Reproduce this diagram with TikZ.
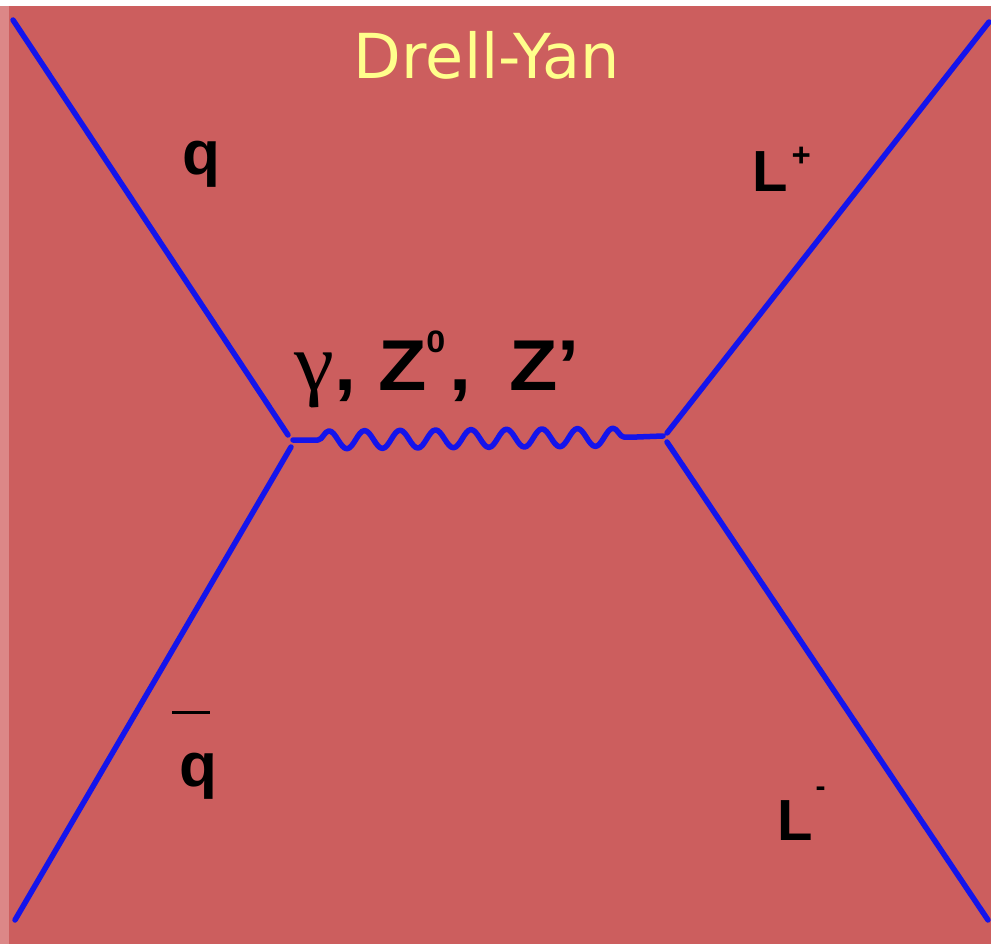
\documentclass[tikz,border=0pt]{standalone}
\usepackage{fontspec}
\setmainfont{Liberation Sans}
\newfontfamily\titlefont{DejaVu Sans}
\newfontfamily\greekfont{Liberation Serif}
\usetikzlibrary{decorations.pathmorphing}
\definecolor{bgred}{RGB}{204,94,94}
\definecolor{edgered}{RGB}{220,135,135}
\definecolor{fermion}{RGB}{20,20,235}
\definecolor{titleyel}{RGB}{255,255,140}

\begin{document}
\begin{tikzpicture}[x=1pt, y=-1pt,
  line/.style={fermion, line width=5.5pt, line cap=round},
  lbl/.style={font=\bfseries\fontsize{62}{62}\selectfont, inner sep=0pt, anchor=base west}]
  % background
  \fill[white] (0,0) rectangle (991,944);
  \fill[edgered] (0,6) rectangle (9,944);
  \fill[bgred] (9,6) rectangle (991,944);
  \useasboundingbox (0,0) rectangle (991,944);

  % end points and vertices
  \coordinate (qin) at (13,20);
  \coordinate (qend) at (288,435);
  \coordinate (qbarend) at (291,447);
  \coordinate (qbarin) at (15,920);
  \coordinate (v1) at (293,440);
  \coordinate (w1) at (318,440);
  \coordinate (w2) at (637,437);
  \coordinate (v2) at (663,436);
  \coordinate (lpstart) at (667,433);
  \coordinate (lpout) at (989,22);
  \coordinate (lmstart) at (667,442);
  \coordinate (lmout) at (988,920);

  % fermion lines
  \draw[line] (qin) -- (qend);
  \draw[line] (qbarend) -- (qbarin);
  \draw[line] (lpstart) -- (lpout);
  \draw[line] (lmstart) -- (lmout);

  % photon
  \draw[line, line join=round] (v1) -- (w1)
    decorate[decoration={snake, segment length=35.5pt, amplitude=9pt}] {-- (w2)}
    -- (v2);

  % labels
  \node[lbl] (q) at (182,175) {q};
  \node[lbl] (qbar) at (179,786) {q};
  \draw[line width=3pt] ([xshift=-7pt, yshift=40pt]qbar.north west)
    -- ([xshift=-7pt, yshift=40pt]qbar.north east);
  \node[lbl, font=\bfseries\fontsize{58}{58}\selectfont] (lplus) at (752,192)
    {L\hspace{4pt}\raisebox{25pt}{\fontsize{33}{33}\selectfont +}};
  \node[lbl, font=\bfseries\fontsize{58}{58}\selectfont] (lminus) at (777,840)
    {L\hspace{3pt}\raisebox{44pt}{\fontsize{30}{30}\selectfont -}};
  \node[lbl, font=\bfseries\fontsize{72}{72}\selectfont] (boson) at (294,390)
    {\scalebox{1.1}[1]{{\greekfont\mdseries\fontsize{82}{82}\selectfont γ}, Z\raisebox{38pt}{\fontsize{31}{31}\selectfont 0}\hspace{4pt}, \hspace{14pt}Z’}};

  % title
  \node[titleyel, inner sep=0pt, anchor=base, font=\titlefont\fontsize{62}{62}\selectfont]
    (title) at (487,79) {Drell-Yan};
\end{tikzpicture}
\end{document}
